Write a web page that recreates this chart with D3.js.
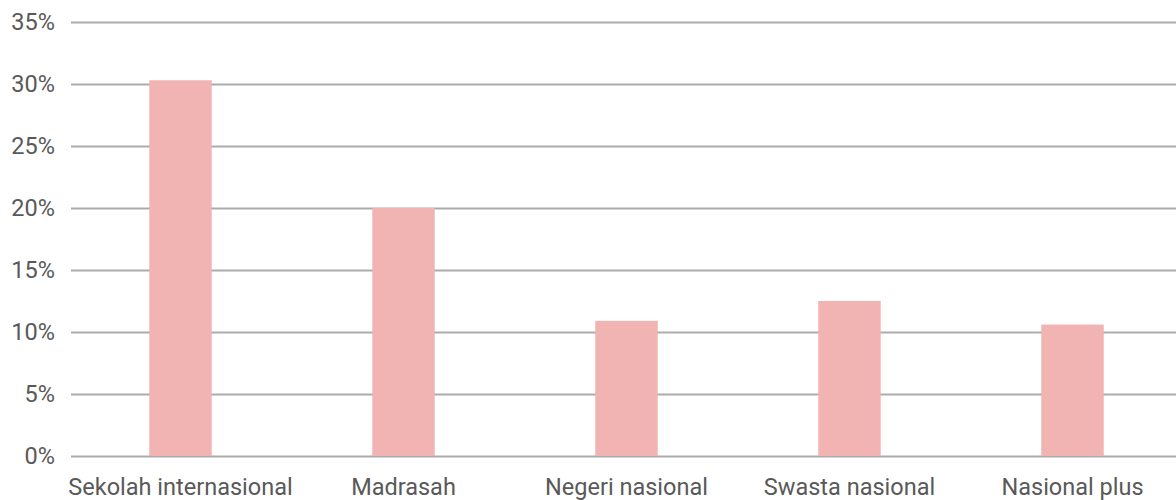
<!DOCTYPE html>
<html>
<head>
<meta charset="utf-8">
<script src="https://cdn.jsdelivr.net/npm/d3@7"></script>
<style>
  body { margin: 0; background: #fff; }
  svg text { font-family: "Roboto", "DejaVu Sans", sans-serif; fill: #595959; }
</style>
</head>
<body>
<div class="visHolder"></div>
<script>
const w = 1176;
const h = 500;

const categories = ["Sekolah internasional", "Madrasah", "Negeri nasional", "Swasta nasional", "Nasional plus"];
const values = [30.3, 20.0, 10.9, 12.5, 10.6];
const yTicks = [0, 5, 10, 15, 20, 25, 30, 35];

const margin = { top: 22, left: 71, bottom: 44 };

const svg = d3.select(".visHolder")
  .append("svg")
  .attr("width", w)
  .attr("height", h);

// X scale
const xScale = d3.scaleBand()
  .domain(categories)
  .range([69, 1184])
  .paddingInner(0.72)
  .paddingOuter(0.36);

// Y scale
const yScale = d3.scaleLinear()
  .domain([0, 35])
  .range([h - margin.bottom, margin.top]);

// gridlines + labels
const yAxis = d3.axisLeft(yScale)
  .tickValues(yTicks)
  .tickSize(-(w - margin.left))
  .tickPadding(16)
  .tickFormat(d => d + "%");

svg.append("g")
  .attr("id", "y-axis")
  .attr("transform", `translate(${margin.left}, 0)`)
  .call(yAxis)
  .call(g => g.select(".domain").remove())
  .call(g => g.selectAll(".tick line").attr("stroke", "#ababab").attr("stroke-width", 2))
  .call(g => g.selectAll(".tick text").attr("font-size", 23.5).attr("x", -16).attr("fill", "#595959"));

// bars
svg.selectAll("rect.bar")
  .data(values)
  .enter()
  .append("rect")
  .attr("class", "bar")
  .attr("x", (d, i) => xScale(categories[i]))
  .attr("y", d => yScale(d))
  .attr("width", xScale.bandwidth())
  .attr("height", d => yScale(0) - yScale(d))
  .style("fill", "#f2b3b3");

// x labels
const xAxis = d3.axisBottom(xScale).tickSize(0).tickPadding(22);
svg.append("g")
  .attr("id", "x-axis")
  .attr("transform", `translate(0, ${yScale(0)})`)
  .call(xAxis)
  .call(g => g.select(".domain").remove())
  .call(g => g.selectAll(".tick text").attr("font-size", 23.5).attr("fill", "#595959"));
</script>
</body>
</html>
